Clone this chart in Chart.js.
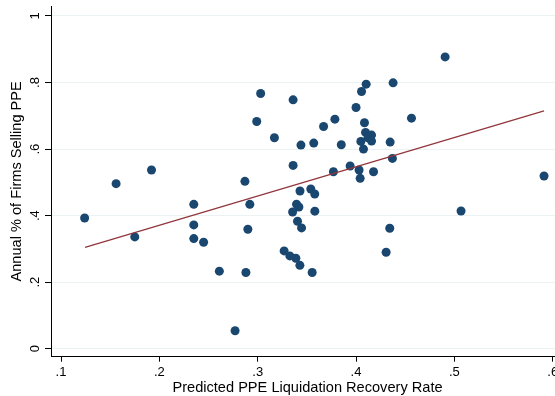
<!DOCTYPE html>
<html>
<head>
<meta charset="utf-8">
<script src="https://cdn.jsdelivr.net/npm/chart.js@4"></script>
<style>
  html, body { margin: 0; padding: 0; background: #fff; overflow: hidden; }
  #wrap { width: 564px; height: 396px; }
</style>
</head>
<body>
<div id="wrap"><canvas id="c" width="564" height="396"></canvas></div>
<script>
// Predicted PPE liquidation recovery rate (x) and annual % of firms selling PPE (y)
const recoveryRate = [
  0.124, 0.156, 0.192, 0.175, 0.235, 0.235, 0.235, 0.245, 0.261, 0.287,
  0.292, 0.290, 0.288, 0.277, 0.299, 0.303, 0.317, 0.336, 0.336, 0.344,
  0.357, 0.343, 0.354, 0.358, 0.367, 0.3785, 0.385, 0.377, 0.394, 0.400,
  0.4056, 0.4103, 0.4086, 0.4097, 0.4158, 0.4122, 0.4049, 0.4158, 0.4076, 0.4031,
  0.4042, 0.4178, 0.4377, 0.4906, 0.4564, 0.4347, 0.437, 0.5912, 0.5068, 0.4343,
  0.4306, 0.3395, 0.3419, 0.3355, 0.3581, 0.3405, 0.3446, 0.3269, 0.3327, 0.3388,
  0.3429, 0.3554
];
const firmsSelling = [
  0.393, 0.496, 0.537, 0.336, 0.434, 0.372, 0.331, 0.320, 0.233, 0.503,
  0.434, 0.359, 0.229, 0.054, 0.683, 0.767, 0.634, 0.748, 0.551, 0.612,
  0.618, 0.474, 0.480, 0.465, 0.668, 0.690, 0.613, 0.532, 0.549, 0.725,
  0.773, 0.795, 0.679, 0.650, 0.642, 0.634, 0.623, 0.624, 0.600, 0.537,
  0.512, 0.532, 0.799, 0.877, 0.693, 0.621, 0.572, 0.519, 0.414, 0.362,
  0.290, 0.4345, 0.426, 0.411, 0.4135, 0.383, 0.363, 0.294, 0.279, 0.272,
  0.2505, 0.229
];
// Fitted line end points
const fitX = [0.1244, 0.5912];
const fitY = [0.3045, 0.7147];

const xTicks = [0.1, 0.2, 0.3, 0.4, 0.5, 0.6];
const xTickLabels = ['.1', '.2', '.3', '.4', '.5', '.6'];
const yTicks = [0, 0.2, 0.4, 0.6, 0.8, 1];
const yTickLabels = ['0', '.2', '.4', '.6', '.8', '1'];

const xTitle = 'Predicted PPE Liquidation Recovery Rate';
const yTitle = 'Annual % of Firms Selling PPE';

const points = recoveryRate.map((x, i) => ({ x: x, y: firmsSelling[i] }));
const fitLine = fitX.map((x, i) => ({ x: x, y: fitY[i] }));

const FONT = "'Liberation Sans', Arial, sans-serif";

new Chart(document.getElementById('c'), {
  type: 'scatter',
  data: {
    datasets: [
      {
        type: 'line',
        data: fitLine,
        borderColor: '#90353b',
        borderWidth: 1.2,
        pointRadius: 0,
        fill: false,
        order: 0
      },
      {
        type: 'scatter',
        data: points,
        backgroundColor: '#1a476f',
        borderColor: '#1a476f',
        borderWidth: 0,
        pointRadius: 4.5,
        order: 1
      }
    ]
  },
  options: {
    responsive: false,
    animation: false,
    devicePixelRatio: 1,
    layout: { autoPadding: false, padding: { top: 6, left: 0, right: 0, bottom: 0 } },
    plugins: { legend: { display: false }, tooltip: { enabled: false } },
    scales: {
      x: {
        type: 'linear',
        position: 'bottom',
        min: 0.0898,
        max: 0.6115,
        afterBuildTicks: (s) => { s.ticks = xTicks.map(v => ({ value: v })); },
        afterFit: (s) => { s.height = 39.3; s.paddingLeft = 0; s.paddingRight = 0; },
        ticks: {
          color: '#000',
          font: { family: FONT, size: 13 },
          padding: 3,
          maxRotation: 0,
          minRotation: 0,
          callback: (v, i) => xTickLabels[i]
        },
        grid: {
          drawOnChartArea: false,
          drawTicks: true,
          tickLength: 5,
          tickColor: '#000',
          tickWidth: 1
        },
        border: { display: true, color: '#000', width: 1 },
        title: {
          display: true,
          text: xTitle,
          color: '#000',
          font: { family: FONT, size: 14.6, lineHeight: 1 },
          padding: { top: 0, bottom: 1 }
        }
      },
      y: {
        type: 'linear',
        position: 'left',
        min: -0.024,
        max: 1.03,
        afterBuildTicks: (s) => { s.ticks = yTicks.map(v => ({ value: v })); },
        afterFit: (s) => { s.width = 51; s.paddingTop = 0; s.paddingBottom = 0; },
        ticks: {
          color: '#000',
          font: { family: FONT, size: 13 },
          padding: 4,
          minRotation: 90,
          maxRotation: 90,
          crossAlign: 'center',
          callback: (v, i) => yTickLabels[i]
        },
        grid: {
          color: '#eaf2f3',
          lineWidth: 1,
          drawTicks: true,
          tickLength: 6,
          tickColor: '#000',
          tickWidth: 1
        },
        border: { display: true, color: '#000', width: 1 },
        title: {
          display: true,
          text: yTitle,
          color: '#000',
          font: { family: FONT, size: 14.6, lineHeight: 1 },
          padding: { top: 10, bottom: 0 }
        }
      }
    }
  }
});
</script>
</body>
</html>
